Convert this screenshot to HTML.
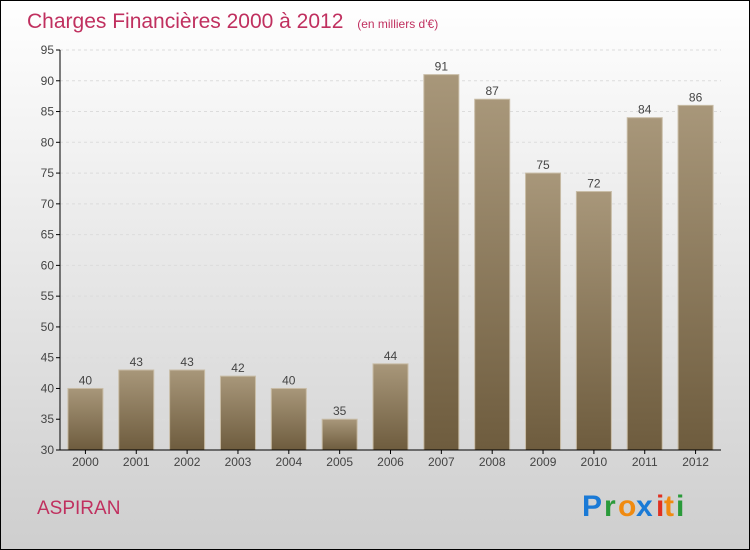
<!DOCTYPE html>
<html><head><meta charset="utf-8"><style>
body{margin:0}
#c{width:750px;height:550px;position:relative;overflow:hidden}
svg text{font-family:"Liberation Sans",sans-serif}
</style></head><body>
<div id="c">
<svg id="s" width="750" height="550" xmlns="http://www.w3.org/2000/svg">
<defs>
<linearGradient id="bg" x1="0" y1="0" x2="0" y2="1"><stop offset="0" stop-color="#ffffff"/><stop offset="1" stop-color="#cecece"/></linearGradient>
<linearGradient id="bar" x1="0" y1="0" x2="0" y2="1"><stop offset="0" stop-color="#a8977a"/><stop offset="1" stop-color="#6e5c3e"/></linearGradient>
</defs>
<rect x="0.5" y="0.5" width="749" height="549" fill="url(#bg)" stroke="#000"/>
<text x="27" y="28" font-size="21" fill="#c0305f">Charges Financières 2000 à 2012 <tspan font-size="12" dx="8">(en milliers d'€)</tspan></text>
<g id="grid"></g><g id="bars"></g><g id="axes"></g>
<text x="37" y="514" font-size="19" fill="#c0305f">ASPIRAN</text>
<g font-size="30" font-weight="bold">
<text x="582" y="516" fill="#1a7ad6">P</text><text x="604" y="516" fill="#2a9a3a">r</text><text x="618" y="516" fill="#f08a10">o</text><text x="636" y="516" fill="#1a7ad6">x</text><text x="656" y="516" fill="#e03020">i</text><text x="664" y="516" fill="#f08a10">t</text><text x="676" y="516" fill="#2a9a3a">i</text>
</g>
</svg></div>
<script>
const categories=["2000","2001","2002","2003","2004","2005","2006","2007","2008","2009","2010","2011","2012"];
const values=[40,43,43,42,40,35,44,91,87,75,72,84,86];
const yTicks=[30,35,40,45,50,55,60,65,70,75,80,85,90,95];
const NS="http://www.w3.org/2000/svg";
const x0=60,x1=721,yMin=30,yMax=95,py0=450,py1=50;
const y=v=>py0-(v-yMin)*(py0-py1)/(yMax-yMin);
const step=(x1-x0)/categories.length;
const xc=i=>x0+step*(i+0.5);
function mk(t,a,p){const e=document.createElementNS(NS,t);for(const k in a)e.setAttribute(k,a[k]);p.appendChild(e);return e;}
const G=document.getElementById('grid'),B=document.getElementById('bars'),A=document.getElementById('axes');
yTicks.forEach(v=>{
 const l=mk('line',{x1:x0,x2:x1,y1:y(v),y2:y(v),stroke:'#dcdcdc','stroke-dasharray':'3,3'},G);
 
 
 const t=mk('line',{x1:x0-4,x2:x0,y1:y(v),y2:y(v),stroke:'#000'},A);
 
 
 const tx=mk('text',{x:x0-6,y:y(v)+4,'font-size':12,fill:'#444','text-anchor':'end'},A);tx.textContent=v;
 
 
});
mk('line',{x1:x0,x2:x0,y1:py1,y2:py0,stroke:'#000'},A);
mk('line',{x1:x0,x2:x1,y1:py0,y2:py0,stroke:'#000'},A);
values.forEach((v,i)=>{
 const bw=35;
 const r=mk('rect',{x:xc(i)-bw/2,y:y(v),width:bw,height:py0-y(v),fill:'url(#bar)',stroke:'#c8bca6','stroke-width':1},B);
 
 
 const t=mk('text',{x:xc(i),y:y(v)-4,'font-size':12,fill:'#444','text-anchor':'middle'},B);t.textContent=v;
 
 
 const c=mk('text',{x:xc(i),y:py0+16,'font-size':12,fill:'#444','text-anchor':'middle'},A);c.textContent=categories[i];
 
 
 mk('line',{x1:xc(i),x2:xc(i),y1:py0,y2:py0+4,stroke:'#000'},A);
});
</script>
</body></html>
